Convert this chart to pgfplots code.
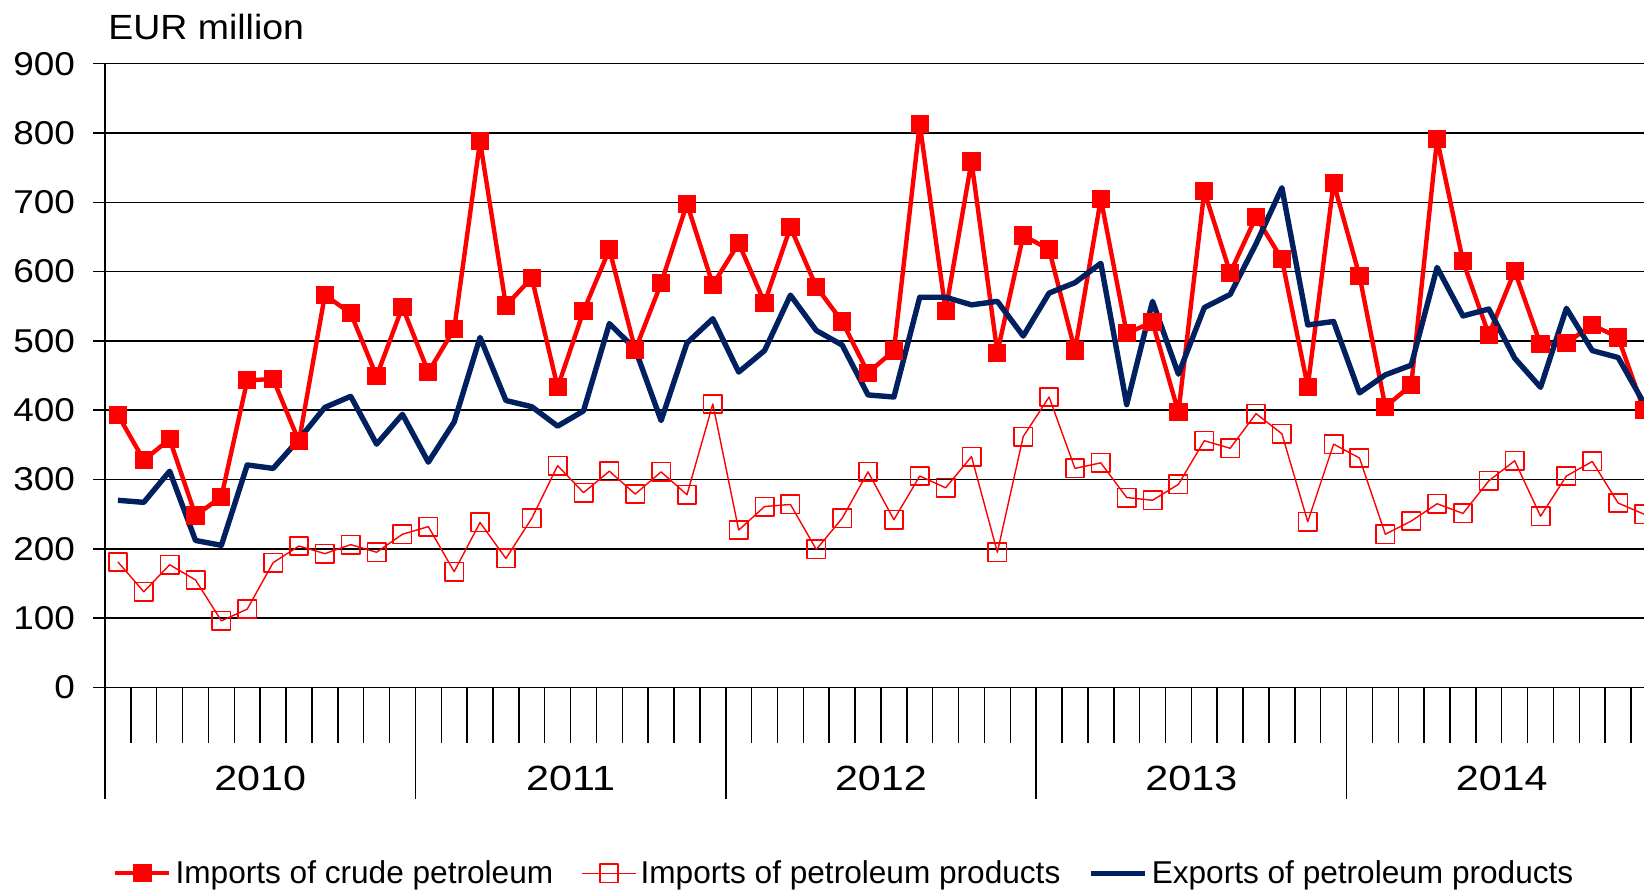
\documentclass[border=0pt]{standalone}
\usepackage{fontspec}
\setmainfont{Liberation Sans}
\usepackage{pgfplots}
\pgfplotsset{compat=1.18}
\usepackage{pgfplotstable}

\definecolor{crudered}{RGB}{255,0,0}
\definecolor{navy}{RGB}{0,32,96}

% month index 0 = Jan 2010 ... 59 = Dec 2014
\pgfplotstableread{
m crude prod exp
0 393 181 270
1 328 138 267
2 358 177 312
3 248 155 212
4 275 96 205
5 443 113 321
6 445 180 316
7 355 204 358
8 566 193 404
9 540 206 420
10 449 195 351
11 549 221 394
12 455 232 325
13 517 167 383
14 788 238 505
15 551 186 414
16 591 244 405
17 433 320 377
18 543 281 399
19 632 312 525
20 487 279 488
21 583 311 385
22 698 278 497
23 581 409 532
24 641 227 455
25 555 261 486
26 664 264 566
27 578 199 515
28 528 244 494
29 454 311 422
30 486 242 419
31 813 305 563
32 543 288 563
33 759 333 552
34 483 195 557
35 652 362 507
36 632 419 569
37 486 316 584
38 705 324 612
39 511 274 408
40 527 270 557
41 397 293 452
42 716 356 548
43 598 345 567
44 679 395 640
45 618 366 721
46 434 239 523
47 728 351 528
48 594 331 425
49 405 221 451
50 436 240 465
51 791 265 606
52 615 251 536
53 509 298 546
54 601 327 475
55 495 247 433
56 497 305 547
57 523 326 486
58 505 266 476
59 400 250 410
}\data

\newcommand\tfont{\fontsize{16.5}{19}\selectfont}
\newcommand\yfont{\fontsize{17.5}{20}\selectfont}

\begin{document}
\begin{tikzpicture}
\begin{axis}[
  name=ax,
  scale only axis,
  width=769.5pt, height=311.85pt,
  xmin=-0.5, xmax=59, ymin=0, ymax=900,
  axis x line*=bottom, axis y line*=left,
  axis line style={black, line width=0.75pt, -},
  ytick={0,100,...,900},
  ymajorgrids,
  grid style={black, line width=0.75pt},
  tick style={black, line width=0.75pt},
  tick align=outside,
  major tick length=6pt,
  xtick=\empty,
  /pgf/number format/assume math mode=true,
  yticklabel={\scalebox{1.12}[1]{\pgfmathprintnumber{\tick}}},
  yticklabel style={font=\tfont, xshift=-5.5pt},
  legend columns=3,
  legend style={draw=none, at={(0.481,-0.298)}, anchor=center,
    font=\fontsize{15.8}{19}\selectfont,
    /tikz/every even column/.append style={column sep=12pt}},
  legend image code/.code={\draw[mark repeat=2,mark phase=2]
    plot coordinates {(0pt,0pt)(13.5pt,0pt)(27pt,0pt)};},
  extra description/.code={
    \node[anchor=west, inner sep=0pt, font=\yfont] at (0.002,1.0587)
      {\scalebox{1.07}[1]{EUR million}};
    \foreach \k in {1,...,59}
      \draw[black, line width=0.75pt] ({\k/59.5},0) -- ({\k/59.5},-0.0891);
    \foreach \s in {0,0.20168,0.40336,0.60504,0.80672}
      \draw[black, line width=0.75pt] (\s,0) -- (\s,-0.1789);
    \foreach \c/\yr in {0.10084/2010,0.30252/2011,0.50420/2012,0.70588/2013,0.90756/2014}
      \node[inner sep=0pt, font=\yfont] at (\c,-0.1459) {\scalebox{1.18}[1]{\yr}};
  },
]
\addplot[crudered, line width=2.2pt, line join=round, mark=square*,
  mark size=4.3pt, mark options={solid, line width=0.5pt}]
  table[x=m, y=crude]{\data};
\addlegendentry{Imports of crude petroleum}
\addplot[crudered, line width=0.7pt, line join=round, mark=square,
  mark size=4.6pt, mark options={solid, line width=0.8pt}]
  table[x=m, y=prod]{\data};
\addlegendentry{Imports of petroleum products}
\addplot[navy, line width=2.7pt, line join=round, no marks]
  table[x=m, y=exp]{\data};
\addlegendentry{Exports of petroleum products}
\end{axis}
\pgfresetboundingbox
\path ([xshift=-52.5pt,yshift=-101.8pt]ax.south west) rectangle ([yshift=31.85pt]ax.north east);
\end{tikzpicture}
\end{document}
